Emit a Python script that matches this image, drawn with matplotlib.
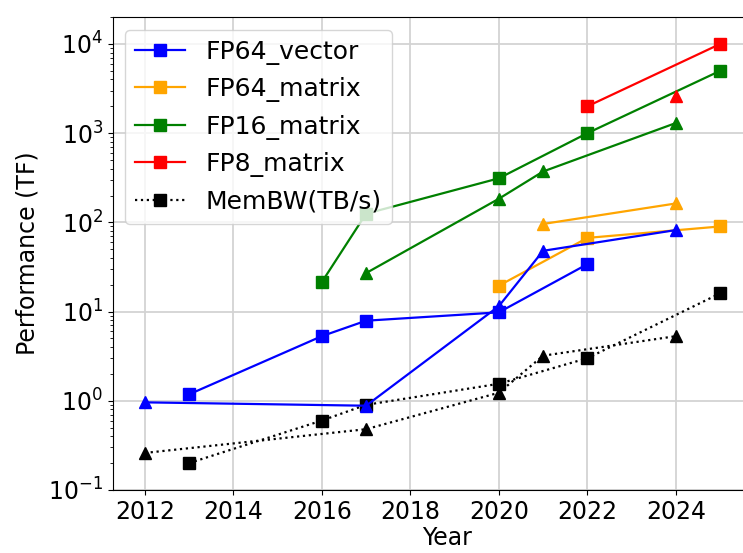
import matplotlib
matplotlib.use("Agg")
import matplotlib.pyplot as plt

plt.rcParams['font.size'] = 17

# squares: first vendor line-up
sq_fp64v_years = [2013, 2016, 2017, 2020, 2022]
sq_fp64v = [1.18, 5.3, 7.9, 9.8, 34]
sq_fp64m_years = [2020, 2022, 2025]
sq_fp64m = [19.5, 67, 90]
sq_fp16m_years = [2016, 2017, 2020, 2022, 2025]
sq_fp16m = [21.4, 125, 312, 1000, 5000]
sq_fp8m_years = [2022, 2025]
sq_fp8m = [2000, 10000]
sq_bw_years = [2013, 2016, 2017, 2020, 2022, 2025]
sq_bw = [0.2, 0.6, 0.9, 1.55, 3.0, 16]

# triangles: second vendor line-up
tr_fp64v_years = [2012, 2017, 2020, 2021, 2024]
tr_fp64v = [0.96, 0.88, 11.5, 48, 82]
tr_fp64m_years = [2021, 2024]
tr_fp64m = [96, 163]
tr_fp16m_years = [2017, 2020, 2021, 2024]
tr_fp16m = [27, 184, 372, 1300]
tr_fp8m_years = [2024]
tr_fp8m = [2600]
tr_bw_years = [2012, 2017, 2020, 2021, 2024]
tr_bw = [0.26, 0.48, 1.23, 3.2, 5.3]

fig = plt.figure(figsize=(7.43, 5.53), dpi=100)
# axes run past the right edge of the canvas
ax = fig.add_axes([0.152, 0.114, 0.9, 0.855])

ms = 9
lw = 1.6
ax.plot(sq_fp64v_years, sq_fp64v, 's-', color='blue', ms=ms, lw=lw, label='FP64_vector')
ax.plot(sq_fp64m_years, sq_fp64m, 's-', color='orange', ms=ms, lw=lw, label='FP64_matrix')
ax.plot(sq_fp16m_years, sq_fp16m, 's-', color='green', ms=ms, lw=lw, label='FP16_matrix')
ax.plot(sq_fp8m_years, sq_fp8m, 's-', color='red', ms=ms, lw=lw, label='FP8_matrix')
ax.plot(sq_bw_years, sq_bw, 's:', color='black', ms=ms, lw=lw, label='MemBW(TB/s)')

ax.plot(tr_fp64v_years, tr_fp64v, '^-', color='blue', ms=ms, lw=lw)
ax.plot(tr_fp64m_years, tr_fp64m, '^-', color='orange', ms=ms, lw=lw)
ax.plot(tr_fp16m_years, tr_fp16m, '^-', color='green', ms=ms, lw=lw)
ax.plot(tr_fp8m_years, tr_fp8m, '^-', color='red', ms=ms, lw=lw)
ax.plot(tr_bw_years, tr_bw, '^:', color='black', ms=ms, lw=lw)

ax.set_yscale('log')
ax.set_ylim(0.1, 2e4)
ax.set_xlim(2011.28, 2026.39)
ax.set_xticks(range(2012, 2025, 2))
ax.grid(True, color='#d3d3d3', lw=1.3)
ax.set_axisbelow(True)
ax.set_xlabel('Year', labelpad=2)
ax.set_ylabel('Performance (TF)', labelpad=6)
ax.legend(loc='upper left', fontsize=18)

plt.savefig('out.png')
